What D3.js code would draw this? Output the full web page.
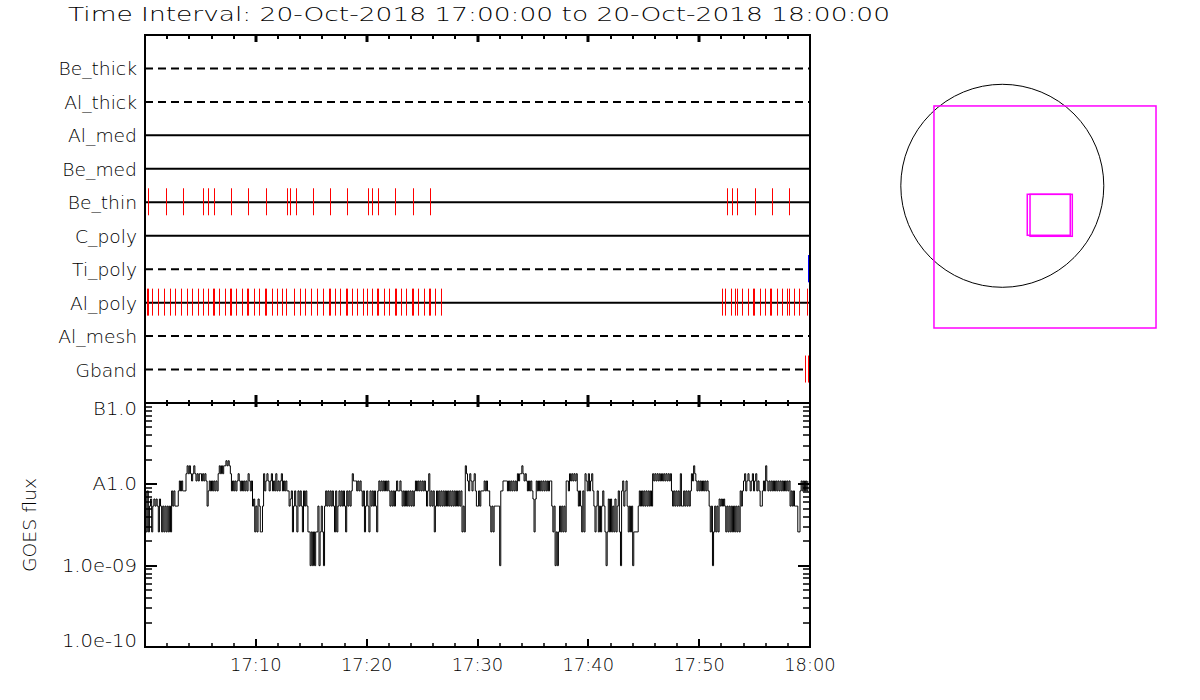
<!DOCTYPE html>
<html><head><meta charset="utf-8">
<script src="https://cdn.jsdelivr.net/npm/d3@7"></script>
<style>
body{margin:0;background:#fff;}
text{font-family:"DejaVu Sans","Liberation Sans",Arial,sans-serif;font-weight:200;fill:#000;}
</style>
</head><body>
<svg id="chart" width="1200" height="700"></svg>
<script>
// ---------------- DATA ----------------
const titleText = "Time Interval: 20-Oct-2018 17:00:00 to 20-Oct-2018 18:00:00";
const channels = ["Be_thick","Al_thick","Al_med","Be_med","Be_thin","C_poly","Ti_poly","Al_poly","Al_mesh","Gband"];
const channelDashed = [true,true,false,false,false,false,true,false,true,true];

// exposure times, minutes after 17:00
const beThinMinutes = [0.30,1.92,3.46,5.26,5.71,6.25,7.79,9.32,10.94,12.84,13.11,13.65,15.19,16.72,18.26,20.15,20.51,21.05,22.58,24.21,25.74,
  52.54,52.99,53.44,55.07,56.60,58.14];
const alPolyMinutes = [0.15,0.24,0.66,1.20,1.71,2.23,2.74,3.25,3.82,4.27,4.81,5.20,5.65,6.14,6.23,6.71,7.22,7.67,7.76,8.24,8.75,9.17,9.29,9.80,10.29,
  10.83,10.92,11.43,11.91,12.33,12.69,13.47,14.02,14.47,14.98,15.49,16.03,16.60,16.69,17.11,17.59,18.14,18.23,18.65,19.16,19.67,20.03,
  20.51,20.93,21.02,21.53,21.98,22.56,22.65,23.13,23.55,24.06,24.15,24.66,25.17,25.62,25.71,26.20,26.74,
  52.09,52.36,52.90,53.26,53.44,53.90,54.44,54.89,54.96,55.52,55.97,56.42,56.49,57.05,57.51,57.96,58.14,58.59,59.04,59.76];
const tiPolyMinutes = [59.80,59.84];
const gbandMinutes = [59.55,59.82];

// GOES 1-8 A flux, units of 1e-9 W/m^2, one value every 0.1 min from 17:00
const goesStepMinutes = 0.1;
const goesFlux = [
 8.3,2.6,8.3,2.6,5.4,6.6,2.6,5.4,6.6,5.4,
 6.6,5.4,2.6,6.6,5.4,2.6,5.4,2.6,5.4,2.6,
 5.4,2.6,5.4,2.6,8.3,5.4,8.3,5.4,5.4,5.4,
 8.3,11,8.3,11,8.3,8.3,8.3,13.5,16.9,13.5,
 16.9,13.5,11,13.5,16.9,13.5,11,13.5,11,13.5,
 13.5,11,13.5,11,13.5,11,5.4,8.3,11,8.3,
 11,8.3,11,8.3,11,8.3,13.5,16.9,13.5,16.9,
 13.5,16.9,16.9,19.5,16.9,19.5,16.9,13.5,8.3,11,
 8.3,11,8.3,11,13.5,11,8.3,11,8.3,11,
 8.3,11,8.3,13.5,11,8.3,11,5.4,6.6,2.6,
 5.4,2.6,6.6,5.4,2.6,2.6,5.4,13.5,8.3,11,
 13.5,11,8.3,11,13.5,8.3,11,8.3,13.5,8.3,
 11,8.3,11,13.5,8.3,11,8.3,11,8.3,8.3,
 5.4,6.6,8.3,2.6,5.4,8.3,5.4,2.6,8.3,5.4,
 8.3,5.4,2.6,8.3,5.4,8.3,5.4,2.6,2.6,1,
 2.6,1,2.6,1,2.6,2.6,5.4,1,2.6,5.4,
 2.6,1,5.4,8.3,5.4,8.3,5.4,8.3,5.4,8.3,
 5.4,2.6,8.3,2.6,5.4,8.3,5.4,8.3,5.4,8.3,
 5.4,2.6,8.3,5.4,8.3,5.4,8.3,13.5,11,11,
 11,8.3,11,8.3,11,8.3,5.4,8.3,2.6,5.4,
 8.3,5.4,2.6,8.3,5.4,8.3,5.4,8.3,5.4,2.6,
 8.3,11,8.3,11,8.3,11,8.3,11,8.3,11,
 8.3,5.4,8.3,5.4,8.3,5.4,8.3,11,8.3,8.3,
 11,8.3,5.4,8.3,5.4,8.3,5.4,8.3,5.4,8.3,
 5.4,8.3,5.4,8.3,11,8.3,11,8.3,11,8.3,
 11,8.3,11,8.3,5.4,8.3,13.5,5.4,8.3,5.4,
 8.3,2.6,5.4,8.3,5.4,8.3,5.4,8.3,5.4,8.3,
 5.4,8.3,5.4,8.3,5.4,8.3,5.4,8.3,5.4,8.3,
 5.4,8.3,5.4,8.3,5.4,8.3,2.6,5.4,2.6,16.9,
 13.5,11,8.3,13.5,11,8.3,11,13.5,8.3,5.4,
 5.4,8.3,5.4,8.3,8.3,8.3,11,8.3,11,8.3,
 8.3,5.4,2.6,5.4,2.6,5.4,5.4,5.4,5.4,5.4,
 1,8.3,8.3,11,11,11,11,8.3,11,8.3,
 11,8.3,11,8.3,11,8.3,13.5,11,13.5,13.5,
 16.9,13.5,11,13.5,11,8.3,11,8.3,11,8.3,
 6.6,2.6,6.6,11,8.3,11,8.3,11,8.3,11,
 8.3,11,8.3,11,8.3,11,11,5.4,2.6,5.4,
 1,2.6,1,2.6,5.4,2.6,5.4,2.6,5.4,2.6,
 11,11,8.3,13.5,11,13.5,11,13.5,11,13.5,
 8.3,5.4,8.3,5.4,2.6,8.3,2.6,13.5,11,8.3,
 13.5,8.3,11,13.5,8.3,5.4,2.6,5.4,8.3,2.6,
 5.4,2.6,5.4,8.3,5.4,2.6,1,2.6,6.6,2.6,
 6.6,2.6,5.4,2.6,6.6,2.6,5.4,8.3,2.6,1,
 8.3,11,5.4,8.3,11,5.4,2.6,5.4,2.6,5.4,
 1,2.6,2.6,2.6,2.6,5.4,8.3,5.4,8.3,5.4,
 8.3,5.4,8.3,5.4,8.3,5.4,8.3,5.4,13.5,11,
 13.5,11,13.5,11,13.5,11,13.5,11,13.5,11,
 13.5,11,13.5,11,13.5,8.3,5.4,8.3,5.4,8.3,
 5.4,8.3,5.4,13.5,5.4,5.4,8.3,5.4,8.3,5.4,
 8.3,5.4,8.3,13.5,11,16.9,13.5,11,8.3,11,
 8.3,11,8.3,11,8.3,11,8.3,11,8.3,5.4,
 2.6,5.4,1,2.6,5.4,2.6,5.4,2.6,6.6,5.4,
 6.6,5.4,6.6,5.4,2.6,5.4,2.6,5.4,2.6,5.4,
 2.6,5.4,2.6,5.4,2.6,5.4,2.6,8.3,5.4,8.3,
 11,13.5,8.3,11,13.5,11,8.3,11,13.5,8.3,
 11,13.5,8.3,11,8.3,5.4,5.4,8.3,11,8.3,
 16.9,11,8.3,11,8.3,11,8.3,11,8.3,11,
 8.3,11,8.3,11,8.3,11,8.3,11,8.3,11,
 8.3,11,5.4,8.3,5.4,8.3,5.4,5.4,5.4,2.6,
 2.6,8.3,11,8.3,11,8.3,11,8.3,11
];

const fluxTickValues = [1e-10,1e-9,1e-8,1e-7];
const fluxTickLabels = ["1.0e-10","1.0e-09","A1.0","B1.0"];
const timeTickMinutes = [10,20,30,40,50,60];
const timeTickLabels = ["17:10","17:20","17:30","17:40","17:50","18:00"];
const yAxisTitle = "GOES flux";

// solar disk and fields of view, arcsec
const sunRadiusArcsec = 970;
const fovBoxes = [
  {cx:408, cy:-298, w:2122, h:2122},
  {cx:444, cy:-277, w:411, h:392},
  {cx:467, cy:-282, w:404, h:401}
];

// ---------------- DRAW ----------------
const svg = d3.select("#chart");
const t0 = new Date(2018,9,20,17,0,0);
const toTime = m => new Date(t0.getTime() + m*60000);

const L = 145, R = 810, TOP = 35, MID = 403, BOT = 647;
const x = d3.scaleTime().domain([t0, toTime(60)]).range([L, R]);
const yRow = d3.scalePoint().domain(channels).range([TOP, MID]).padding(1);
const yFlux = d3.scaleLog().domain([1e-10, 1e-7]).range([BOT, MID]);

function stretchTo(sel, targetFn){
  sel.each(function(d,i){
    this.setAttribute("textLength", targetFn(this.getComputedTextLength(), d, i));
    this.setAttribute("lengthAdjust","spacingAndGlyphs");
  });
}

// title
svg.append("text").attr("x",68).attr("y",21).attr("font-size",19.5)
  .attr("textLength",822).attr("lengthAdjust","spacingAndGlyphs").text(titleText);

// channel lines
const rows = svg.append("g");
channels.forEach((c,i)=>{
  rows.append("line").attr("x1",L).attr("x2",R).attr("y1",yRow(c)).attr("y2",yRow(c))
    .attr("stroke","#000").attr("stroke-width",2)
    .attr("stroke-dasharray", channelDashed[i] ? "8,5" : null);
});
const rowLabels = rows.selectAll("text.rl").data(channels).join("text")
  .attr("class","rl").attr("x",137).attr("y",d=>yRow(d)+7).attr("text-anchor","end")
  .attr("font-size",17).text(d=>d);
stretchTo(rowLabels, w=>w*1.1);

function events(list, ch, color, sw){
  svg.append("g").selectAll("line").data(list).join("line")
    .attr("x1",d=>Math.round(x(toTime(d)))+0.5).attr("x2",d=>Math.round(x(toTime(d)))+0.5)
    .attr("y1",yRow(ch)-14).attr("y2",yRow(ch)+13)
    .attr("stroke",color).attr("stroke-width",sw||1);
}
events(beThinMinutes,"Be_thin","#ff0000");
events(alPolyMinutes,"Al_poly","#ff0000");
events(tiPolyMinutes,"Ti_poly","#0000ff");
events(gbandMinutes,"Gband","#ff0000");

// GOES curve
const goesLine = d3.line()
  .x((d,i)=>x(toTime(i*goesStepMinutes)))
  .y(d=>yFlux(d*1e-9))
  .curve(d3.curveStepAfter);
svg.append("path").datum(goesFlux).attr("d",goesLine)
  .attr("fill","none").attr("stroke","#000").attr("stroke-width",1);

// frame
const frame = svg.append("g").attr("stroke","#000").attr("stroke-width",2).attr("fill","none");
frame.append("path").attr("d",`M${L},${TOP}H${R}V${BOT}H${L}Z`);
frame.append("line").attr("x1",L).attr("x2",R).attr("y1",MID).attr("y2",MID);

// time ticks
const minor = d3.timeMinute.every(2).range(toTime(0.5), toTime(60));
const ticksG = svg.append("g").attr("stroke","#000");
minor.forEach(t=>{
  const isMajor = t.getMinutes() % 10 === 0;
  const xx = Math.round(x(t));
  const w = isMajor ? 3 : 2;
  ticksG.append("line").attr("x1",xx).attr("x2",xx).attr("y1",TOP).attr("y2",TOP+(isMajor?7:4)).attr("stroke-width",w);
  ticksG.append("line").attr("x1",xx).attr("x2",xx).attr("y1",MID-(isMajor?8:3)).attr("y2",MID+(isMajor?4:3)).attr("stroke-width",w);
  ticksG.append("line").attr("x1",xx).attr("x2",xx).attr("y1",BOT).attr("y2",BOT-(isMajor?8:4)).attr("stroke-width",isMajor?2:1.5);
});
const xl = svg.append("g").selectAll("text").data(timeTickMinutes).join("text")
  .attr("x",d=>x(toTime(d))).attr("y",671).attr("text-anchor","middle")
  .attr("font-size",17).text((d,i)=>timeTickLabels[i]);
stretchTo(xl, w=>w*1.05);

// flux ticks (log)
const fluxMinor = [];
for (let e=-10; e<-7; e++) for (let k=2;k<=9;k++) fluxMinor.push(k*Math.pow(10,e));
const yt = svg.append("g").attr("stroke","#000");
fluxMinor.forEach(v=>{
  const yy = Math.round(yFlux(v));
  yt.append("line").attr("x1",L).attr("x2",L+7).attr("y1",yy).attr("y2",yy).attr("stroke-width",1.5);
  yt.append("line").attr("x1",R).attr("x2",R-7).attr("y1",yy).attr("y2",yy).attr("stroke-width",1.5);
});
fluxTickValues.forEach(v=>{
  const yy = Math.round(yFlux(v));
  yt.append("line").attr("x1",L).attr("x2",L+12).attr("y1",yy).attr("y2",yy).attr("stroke-width",2);
  yt.append("line").attr("x1",R).attr("x2",R-12).attr("y1",yy).attr("y2",yy).attr("stroke-width",2);
});
const yl = svg.append("g").selectAll("text").data(fluxTickValues).join("text")
  .attr("x",137).attr("text-anchor","end").attr("font-size",17)
  .attr("y",d=>Math.max(MID+6, Math.min(BOT-6, yFlux(d)))+6)
  .text((d,i)=>fluxTickLabels[i]);
stretchTo(yl, w=>w*1.15);
const yTitle = svg.append("text").attr("transform","translate(36,525) rotate(-90)")
  .attr("text-anchor","middle").attr("font-size",17).text(yAxisTitle);
stretchTo(yTitle, ()=>94);

// solar disk + FOV
const sx = d3.scaleLinear().domain([-sunRadiusArcsec, sunRadiusArcsec]).range([900.8, 1103.8]);
const sy = d3.scaleLinear().domain([-sunRadiusArcsec, sunRadiusArcsec]).range([287.3, 84.3]);
svg.append("circle").attr("cx",sx(0)).attr("cy",sy(0)).attr("r",sx(sunRadiusArcsec)-sx(0))
  .attr("fill","none").attr("stroke","#000").attr("stroke-width",1);
svg.append("g").selectAll("rect").data(fovBoxes).join("rect")
  .attr("x",d=>sx(d.cx-d.w/2)).attr("y",d=>sy(d.cy+d.h/2))
  .attr("width",d=>sx(d.cx+d.w/2)-sx(d.cx-d.w/2)).attr("height",d=>sy(d.cy-d.h/2)-sy(d.cy+d.h/2))
  .attr("fill","none").attr("stroke","#ff00ff").attr("stroke-width",1.5);
</script>
</body></html>
